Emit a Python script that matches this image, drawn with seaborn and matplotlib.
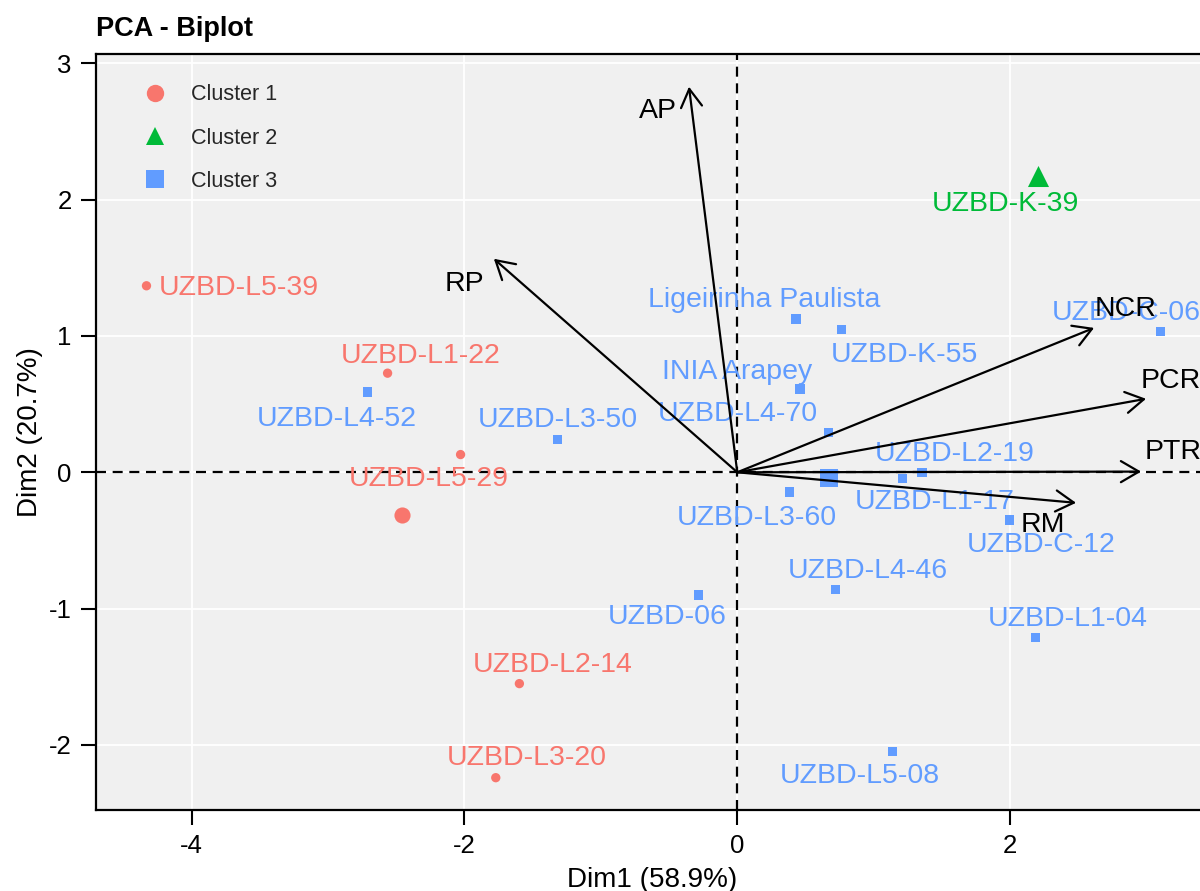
import numpy as np
import pandas as pd
import matplotlib
matplotlib.use("Agg")
import matplotlib.pyplot as plt
from matplotlib.lines import Line2D
import seaborn as sns

# ---- individuals (PCA scores on Dim1 / Dim2) ----
names = ["UZBD-L5-39", "UZBD-L1-22", "UZBD-L5-29", "UZBD-L2-14", "UZBD-L3-20",
         "UZBD-K-39",
         "Ligeirinha Paulista", "UZBD-K-55", "UZBD-C-06", "INIA Arapey", "UZBD-L4-70",
         "UZBD-L4-52", "UZBD-L3-50", "UZBD-L2-19", "UZBD-L1-17", "UZBD-L3-60",
         "UZBD-C-12", "UZBD-L4-46", "UZBD-06", "UZBD-L1-04", "UZBD-L5-08"]
dim1 = [-4.33, -2.563, -2.028, -1.597, -1.77,
        2.205,
        0.43, 0.765, 3.10, 0.46, 0.67,
        -2.71, -1.32, 1.354, 1.213, 0.381,
        1.994, 0.72, -0.284, 2.184, 1.136]
dim2 = [1.368, 0.727, 0.13, -1.55, -2.24,
        2.17,
        1.125, 1.045, 1.032, 0.61, 0.294,
        0.588, 0.238, 0.0, -0.046, -0.144,
        -0.349, -0.862, -0.90, -1.21, -2.046]
cluster = ["Cluster 1"] * 5 + ["Cluster 2"] + ["Cluster 3"] * 15

# ---- variables (loadings drawn as arrows) ----
var_names = ["AP", "RP", "NCR", "PCR", "PTR", "RM"]
var_x = [-0.354, -1.784, 2.615, 2.996, 2.96, 2.483]
var_y = [2.828, 1.566, 1.059, 0.539, 0.005, -0.224]

# ---- styling ----
palette = {"Cluster 1": "#F8766D", "Cluster 2": "#00BA38", "Cluster 3": "#619CFF"}
markers = {"Cluster 1": "o", "Cluster 2": "^", "Cluster 3": "s"}
centroid_sizes = {"Cluster 1": 135, "Cluster 2": 230, "Cluster 3": 150}

# label offsets (pixels) from each point, keeping labels clear of each other
label_offsets = {
    "UZBD-L5-39": (92, 0), "UZBD-L1-22": (33, 20), "UZBD-L5-29": (-32, -22),
    "UZBD-L2-14": (33, 21), "UZBD-L3-20": (31, 22), "UZBD-K-39": (-33, -25),
    "Ligeirinha Paulista": (-32, 21), "UZBD-K-55": (63, -23), "UZBD-C-06": (-34, 21),
    "INIA Arapey": (-63, 20), "UZBD-L4-70": (-91, 21), "UZBD-L4-52": (-31, -24),
    "UZBD-L3-50": (1, 22), "UZBD-L2-19": (33, 21), "UZBD-L1-17": (32, -21),
    "UZBD-L3-60": (-32, -24), "UZBD-C-12": (32, -23), "UZBD-L4-46": (32, 21),
    "UZBD-06": (-31, -20), "UZBD-L1-04": (32, 21), "UZBD-L5-08": (-32, -22),
}
var_label_offsets = {
    "AP": (-31, -22), "RP": (-29, -23), "NCR": (31, 21),
    "PCR": (25, 20), "PTR": (32, 22), "RM": (-33, -20),
}
# text boxes include descent, so nudge labels down to centre the glyphs
text_nudge = -2.5

sns.set_theme(style="ticks")
plt.rcParams["font.family"] = ["Liberation Sans", "DejaVu Sans"]
plt.rcParams["axes.unicode_minus"] = False

df = pd.DataFrame({"name": names, "Dim1": dim1, "Dim2": dim2, "cluster": cluster})
centroids = df.groupby("cluster", as_index=False)[["Dim1", "Dim2"]].mean()

fig = plt.figure(figsize=(12, 8.91), dpi=100)
ax = fig.add_axes([96 / 1200, 1 - 810 / 891, 1112 / 1200, 756 / 891])
ax.set_facecolor("#F0F0F0")

# grid
ax.set_xticks([-4, -2, 0, 2])
ax.set_yticks([-2, -1, 0, 1, 2, 3])
ax.grid(True, color="white", linewidth=1.3)
ax.set_axisbelow(True)

# reference lines through the origin
ax.axhline(0, color="black", linewidth=1.6, linestyle=(0, (4.5, 3)), zorder=1.5)
ax.axvline(0, color="black", linewidth=1.6, linestyle=(0, (4.5, 3)), zorder=1.5)

# individuals
sns.scatterplot(data=df, x="Dim1", y="Dim2", hue="cluster", style="cluster",
                palette=palette, markers=markers, s=45, linewidth=0,
                legend=False, ax=ax, zorder=3)
# cluster centroids
for _, row in centroids.iterrows():
    sns.scatterplot(x=[row["Dim1"]], y=[row["Dim2"]], color=palette[row["cluster"]],
                    marker=markers[row["cluster"]], s=centroid_sizes[row["cluster"]],
                    linewidth=0, legend=False, ax=ax, zorder=3)

# individual labels
for n, x, y, c in zip(names, dim1, dim2, cluster):
    dx, dy = label_offsets[n]
    ax.annotate(n, xy=(x, y), xytext=(dx, dy + text_nudge), textcoords="offset pixels",
                ha="center", va="center", fontsize=20.5, color=palette[c], zorder=4)

# variable arrows
for n, x, y in zip(var_names, var_x, var_y):
    ax.annotate("", xy=(x, y), xytext=(0, 0),
                arrowprops=dict(arrowstyle="->,head_length=0.65,head_width=0.38",
                                color="black", lw=1.6, shrinkA=0, shrinkB=0,
                                mutation_scale=20),
                zorder=5)
    dx, dy = var_label_offsets[n]
    ax.annotate(n, xy=(x, y), xytext=(dx, dy + text_nudge), textcoords="offset pixels",
                ha="center", va="center", fontsize=20.5, color="black", zorder=6)

ax.set_xlim(-4.70, 3.45)
ax.set_ylim(-2.477, 3.068)

for side in ["left", "bottom", "right", "top"]:
    ax.spines[side].set_color("black")
    ax.spines[side].set_linewidth(1.6)
ax.tick_params(axis="both", colors="black", length=10.5, width=1.5,
               labelsize=18.5, pad=7)

ax.set_xlabel("Dim1 (58.9%)", fontsize=20, color="black", labelpad=6)
ax.set_ylabel("Dim2 (20.7%)", fontsize=20, color="black", labelpad=4)

fig.text(96 / 1200, 1 - 36 / 891, "PCA - Biplot", fontsize=19.5,
         fontweight="bold", ha="left", va="baseline", color="black")

# legend
handles = [Line2D([], [], linestyle="none", marker=markers[k], color=palette[k],
                  markersize=12.5, markeredgewidth=0) for k in palette]
ax.legend(handles, list(palette.keys()), loc="upper left",
          bbox_to_anchor=(138 / 1200, 1 - 84.5 / 891), bbox_transform=fig.transFigure,
          frameon=False, fontsize=15.5, handlelength=1.55, handletextpad=0.9,
          labelspacing=1.03, borderpad=0, borderaxespad=0)

fig.savefig("out.png", dpi=100)
